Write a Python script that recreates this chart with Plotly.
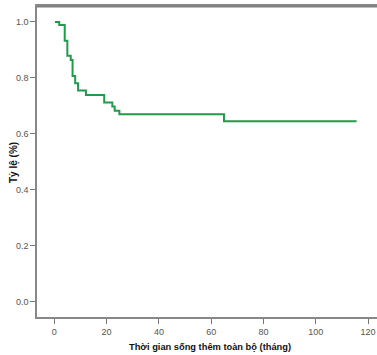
import plotly.graph_objects as go

# Kaplan-Meier survival curve
time_months = [0.25, 1.9, 4.0, 5.0, 6.3, 7.0, 8.0, 9.1, 12.1, 19.1, 22.2, 23.1, 24.9, 64.9, 115.6]
survival = [1.0, 0.989, 0.933, 0.879, 0.864, 0.807, 0.781, 0.755, 0.739, 0.712, 0.698, 0.683, 0.670, 0.645, 0.645]

x_ticks = [0, 20, 40, 60, 80, 100, 120]
y_ticks = [0.0, 0.2, 0.4, 0.6, 0.8, 1.0]
x_title = "Thời gian sống thêm toàn bộ (tháng)"
y_title = "Tỷ lệ (%)"

fig = go.Figure()
fig.add_trace(go.Scatter(
    x=time_months, y=survival, mode="lines", line_shape="hv",
    line=dict(color="#229a4c", width=2), showlegend=False, hoverinfo="skip"))

axis_font = dict(family="Liberation Sans, Arial", size=9, color="#555555")
title_font = dict(family="Liberation Sans, Arial", size=9.3, color="#111111")
fig.update_layout(
    width=377, height=355,
    margin=dict(l=37, r=0, t=6, b=38, autoexpand=False),
    paper_bgcolor="white", plot_bgcolor="white",
    xaxis=dict(range=[-6.6, 123.4], tickvals=x_ticks, ticks="outside", ticklen=5,
               tickcolor="#777777", showgrid=False, zeroline=False, automargin=False,
               showline=True, linecolor="#888888", linewidth=1.5, mirror=True,
               tickfont=axis_font),
    yaxis=dict(range=[-0.054, 1.057], tickvals=y_ticks, tickformat=".1f", ticks="outside",
               ticklen=5, tickcolor="#777777", showgrid=False, zeroline=False, automargin=False,
               showline=True, linecolor="#888888", linewidth=1.5,
               tickfont=axis_font),
    shapes=[dict(type="line", xref="paper", yref="paper", x0=0, x1=1, y0=0.998, y1=0.998,
                 line=dict(color="#808080", width=2), layer="above")],
    annotations=[
        dict(text="<b>" + x_title + "</b>", xref="paper", yref="paper",
             x=(210 - 37) / 340, y=-(347 - 317) / 311, yanchor="middle", xanchor="center",
             showarrow=False, font=title_font),
        dict(text="<b>" + y_title + "</b>", xref="paper", yref="paper",
             x=-(37 - 14) / 340, y=(317 - 163) / 311, yanchor="middle", xanchor="center",
             textangle=-90, showarrow=False, font=dict(family="Liberation Sans, Arial", size=10, color="#111111")),
    ],
)
fig.write_html("out.html", config={"displayModeBar": False},
               post_script="document.body.style.margin='0';document.body.style.padding='0';")
